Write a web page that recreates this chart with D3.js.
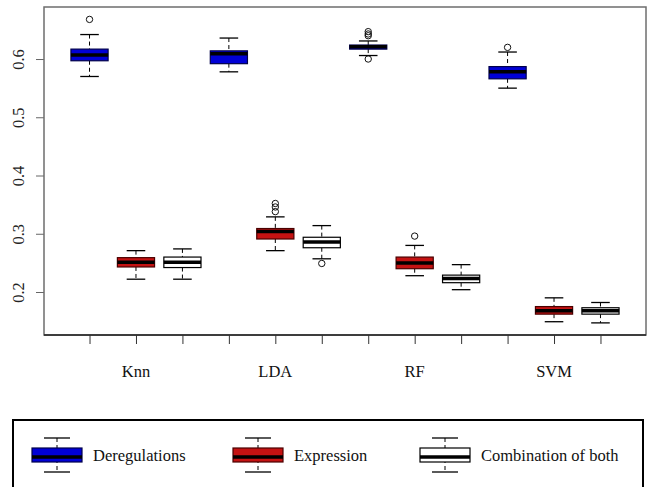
<!DOCTYPE html>
<html>
<head>
<meta charset="utf-8">
<script src="https://cdn.jsdelivr.net/npm/d3@7"></script>
<style>
  body { margin: 0; background: #fff; }
  svg { display: block; font-family: "Liberation Serif", "DejaVu Serif", serif; }
</style>
</head>
<body>
<div id="chart"></div>
<script>
// classifiers along the x axis, three methods per classifier
const classifiers = ["Knn", "LDA", "RF", "SVM"];
const methods = ["Deregulations", "Expression", "Combination of both"];

// [lower whisker, Q1, median, Q3, upper whisker] for each classifier
const deregStats = [
    [0.570, 0.597, 0.607, 0.617, 0.642],
    [0.578, 0.592, 0.609, 0.614, 0.636],
    [0.606, 0.617, 0.621, 0.624, 0.631],
    [0.550, 0.566, 0.578, 0.587, 0.612]
];
const exprStats = [
    [0.222, 0.243, 0.251, 0.259, 0.271],
    [0.271, 0.291, 0.304, 0.309, 0.329],
    [0.228, 0.240, 0.250, 0.260, 0.280],
    [0.149, 0.162, 0.168, 0.175, 0.190]
];
const combStats = [
    [0.222, 0.242, 0.251, 0.260, 0.274],
    [0.257, 0.276, 0.286, 0.294, 0.314],
    [0.204, 0.216, 0.223, 0.229, 0.247],
    [0.147, 0.162, 0.168, 0.173, 0.182]
];

// outliers for each classifier
const deregOutliers = [[0.668], [], [0.647, 0.643, 0.640, 0.600], [0.620]];
const exprOutliers = [[], [0.352, 0.346, 0.338], [0.296], []];
const combOutliers = [[], [0.249], [], []];

const yTicks = [0.2, 0.3, 0.4, 0.5, 0.6];

const fills = ["#0000d6", "#c41212", "#ffffff"];
const borders = ["#00004a", "#4a0000", "#000000"];

var statsByMethod = [deregStats, exprStats, combStats];
var outliersByMethod = [deregOutliers, exprOutliers, combOutliers];

var boxes = [];
classifiers.forEach(function (c, ci) {
    methods.forEach(function (m, mi) {
        boxes.push({
            pos: ci * 3 + mi + 1,
            method: mi,
            s: statsByMethod[mi][ci],
            out: outliersByMethod[mi][ci]
        });
    });
});

var W = 647, H = 487;
var margin = { left: 44, right: 1, top: 7, bottom: 152 };
var width = W - margin.left - margin.right;
var height = H - margin.top - margin.bottom;

var svg = d3.select("#chart").append("svg")
    .attr("width", W)
    .attr("height", H);

var g = svg.append("g")
    .attr("transform", "translate(" + margin.left + "," + margin.top + ")");

var x = d3.scaleLinear()
    .domain([0.02, 12.98])
    .range([0, width]);

var y = d3.scaleLinear()
    .domain([0.1262, 0.6893])
    .range([height, 0]);

var boxW = x(0.8) - x(0);
var capW = boxW / 2;

// axes
var yAxis = g.append("g")
    .call(d3.axisLeft(y).tickValues(yTicks).tickSize(8).tickFormat(d3.format(".1f")));
yAxis.select(".domain").remove();
yAxis.selectAll(".tick line").attr("stroke", "#666");
yAxis.selectAll(".tick text")
    .attr("font-size", 16.5)
    .attr("fill", "#222")
    .attr("font-family", "Liberation Serif, serif")
    .attr("transform", "rotate(-90)")
    .attr("x", 0)
    .attr("y", -20)
    .attr("dy", 0)
    .attr("text-anchor", "middle");

var xAxis = g.append("g")
    .attr("transform", "translate(0," + height + ")")
    .call(d3.axisBottom(x).tickValues(d3.range(1, 13)).tickSize(9).tickFormat(""));
xAxis.select(".domain").remove();
xAxis.selectAll(".tick line").attr("stroke", "#333");

g.selectAll(".xlabel")
    .data(classifiers)
    .enter()
    .append("text")
    .attr("class", "xlabel")
    .attr("x", function (d, i) { return x(i * 3 + 2); })
    .attr("y", height + 42)
    .attr("text-anchor", "middle")
    .attr("font-size", 16.5)
    .attr("fill", "#111")
    .text(function (d) { return d; });

// plot frame
g.append("rect")
    .attr("width", width)
    .attr("height", height)
    .attr("fill", "none")
    .attr("stroke", "#6e6e6e")
    .attr("stroke-width", 1.5);
g.append("line")
    .attr("x1", 0).attr("x2", width)
    .attr("y1", height).attr("y2", height)
    .attr("stroke", "#222")
    .attr("stroke-width", 1.5);

// boxes
var bx = g.selectAll(".box")
    .data(boxes)
    .enter()
    .append("g")
    .attr("class", "box");

bx.append("line")
    .attr("x1", function (d) { return x(d.pos); })
    .attr("x2", function (d) { return x(d.pos); })
    .attr("y1", function (d) { return y(d.s[4]); })
    .attr("y2", function (d) { return y(d.s[3]); })
    .attr("stroke", "#000")
    .attr("stroke-dasharray", "4,3");
bx.append("line")
    .attr("x1", function (d) { return x(d.pos); })
    .attr("x2", function (d) { return x(d.pos); })
    .attr("y1", function (d) { return y(d.s[1]); })
    .attr("y2", function (d) { return y(d.s[0]); })
    .attr("stroke", "#000")
    .attr("stroke-dasharray", "4,3");

[0, 4].forEach(function (k) {
    bx.append("line")
        .attr("x1", function (d) { return x(d.pos) - capW / 2; })
        .attr("x2", function (d) { return x(d.pos) + capW / 2; })
        .attr("y1", function (d) { return y(d.s[k]); })
        .attr("y2", function (d) { return y(d.s[k]); })
        .attr("stroke", "#000")
        .attr("stroke-width", 1.3);
});

bx.append("rect")
    .attr("x", function (d) { return x(d.pos) - boxW / 2; })
    .attr("y", function (d) { return y(d.s[3]); })
    .attr("width", boxW)
    .attr("height", function (d) { return y(d.s[1]) - y(d.s[3]); })
    .attr("fill", function (d) { return fills[d.method]; })
    .attr("stroke", function (d) { return borders[d.method]; })
    .attr("stroke-width", 1.2);

bx.append("line")
    .attr("x1", function (d) { return x(d.pos) - boxW / 2; })
    .attr("x2", function (d) { return x(d.pos) + boxW / 2; })
    .attr("y1", function (d) { return y(d.s[2]); })
    .attr("y2", function (d) { return y(d.s[2]); })
    .attr("stroke", "#000")
    .attr("stroke-width", 3.5);

bx.selectAll(".out")
    .data(function (d) { return d.out.map(function (v) { return { pos: d.pos, v: v }; }); })
    .enter()
    .append("circle")
    .attr("class", "out")
    .attr("cx", function (d) { return x(d.pos); })
    .attr("cy", function (d) { return y(d.v); })
    .attr("r", 3.2)
    .attr("fill", "none")
    .attr("stroke", "#111")
    .attr("stroke-width", 1);

// legend
var legend = svg.append("g");
legend.append("rect")
    .attr("x", 13)
    .attr("y", 420)
    .attr("width", 630)
    .attr("height", 90)
    .attr("fill", "none")
    .attr("stroke", "#000")
    .attr("stroke-width", 2);

var legendX = [32, 233, 420];
var item = legend.selectAll(".legend")
    .data(methods)
    .enter()
    .append("g")
    .attr("class", "legend")
    .attr("transform", function (d, i) { return "translate(" + legendX[i] + ",0)"; });

item.append("line")
    .attr("x1", 25).attr("x2", 25)
    .attr("y1", 438).attr("y2", 472)
    .attr("stroke", "#000")
    .attr("stroke-dasharray", "4,3");
[438, 472].forEach(function (cy) {
    item.append("line")
        .attr("x1", 12).attr("x2", 38)
        .attr("y1", cy).attr("y2", cy)
        .attr("stroke", "#000")
        .attr("stroke-width", 1.3);
});
item.append("rect")
    .attr("x", 0).attr("y", 448)
    .attr("width", 50).attr("height", 14)
    .attr("fill", function (d, i) { return fills[i]; })
    .attr("stroke", function (d, i) { return borders[i]; })
    .attr("stroke-width", 1.2);
item.append("line")
    .attr("x1", 0).attr("x2", 50)
    .attr("y1", 457).attr("y2", 457)
    .attr("stroke", "#000")
    .attr("stroke-width", 3.5);
item.append("text")
    .attr("x", 61)
    .attr("y", 461)
    .attr("font-size", 16.5)
    .attr("fill", "#111")
    .text(function (d) { return d; });
</script>
</body>
</html>
